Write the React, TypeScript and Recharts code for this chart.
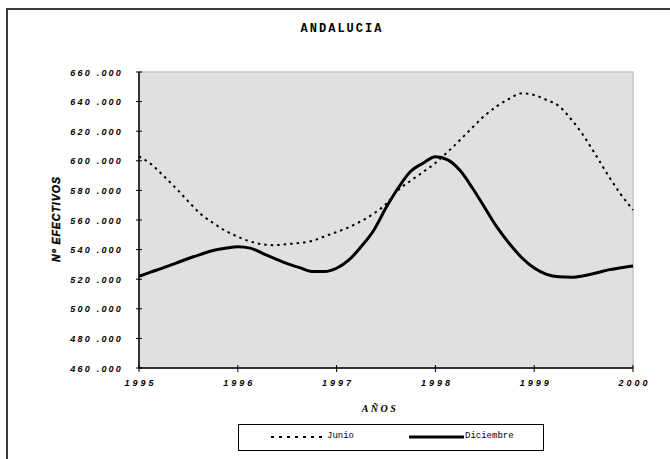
import React from "react"
import { LineChart, Line, XAxis, YAxis, ReferenceArea, Label } from "recharts"

// time axis, eighths of a year from 1995 to 2000
const years = [
  1995, 1995.125, 1995.25, 1995.375, 1995.5, 1995.625, 1995.75, 1995.875,
  1996, 1996.125, 1996.25, 1996.375, 1996.5, 1996.625, 1996.75, 1996.875,
  1997, 1997.125, 1997.25, 1997.375, 1997.5, 1997.625, 1997.75, 1997.875,
  1998, 1998.125, 1998.25, 1998.375, 1998.5, 1998.625, 1998.75, 1998.875,
  1999, 1999.125, 1999.25, 1999.375, 1999.5, 1999.625, 1999.75, 1999.875,
  2000,
]

// thousands of staff
const junio = [
  603, 597.6, 589.7, 581.4, 572.5, 564, 558, 552.7,
  548.7, 545.5, 543.6, 543, 543.7, 544.5, 545.8, 548.9,
  551.9, 555.1, 559.3, 564.3, 570.8, 580.3, 586.6, 592.4,
  598.5, 606, 614.1, 622.5, 630.5, 637, 642, 645.6,
  644.5, 641.1, 637, 628, 616.9, 603.7, 590, 577.5,
  566.8,
]

const diciembre = [
  522, 524.9, 527.8, 530.9, 534, 536.8, 539.4, 540.9,
  542, 541, 537.5, 533.9, 530.5, 527.8, 525.2, 525.2,
  527.4, 533, 542.1, 552.9, 568.2, 581.8, 592.9, 598.4,
  602.8, 600.6, 593.4, 581.6, 568.3, 555, 544, 534.5,
  527.5, 523.3, 521.6, 521.3, 522.3, 524.2, 526.3, 527.7,
  528.9,
]

const xTicks = [1995, 1996, 1997, 1998, 1999, 2000]
const yTicks = [460, 480, 500, 520, 540, 560, 580, 600, 620, 640, 660]

const data = years.map((year, i) => ({
  year,
  junio: junio[i] * 1000,
  diciembre: diciembre[i] * 1000,
}))

const TICK_FONT = "'Liberation Sans', Arial, sans-serif"
const MONO = "'Liberation Mono', 'Courier New', monospace"

function fmt(v: number) {
  const s = String(Math.round(v / 1000))
  return s + " .000"
}

function YTick({ x, y, payload }: any) {
  return (
    <g>
      <line x1={x - 3} x2={x + 3} y1={y} y2={y} stroke="#000" strokeWidth={1} />
      <text
        x={x - 16}
        y={y + 3.5}
        textAnchor="end"
        fontFamily={TICK_FONT}
        fontSize={9}
        fontStyle="italic"
        fontWeight={700}
        letterSpacing={2.2}
        fill="#000"
      >
        {fmt(payload.value)}
      </text>
    </g>
  )
}

function XTick({ x, y, payload }: any) {
  return (
    <g>
      <line x1={x} x2={x} y1={y - 3} y2={y + 4} stroke="#000" strokeWidth={1} />
      <text
        x={x + 1.5}
        y={y + 18}
        textAnchor="middle"
        fontFamily={TICK_FONT}
        fontSize={9}
        fontStyle="italic"
        fontWeight={700}
        letterSpacing={3}
        fill="#000"
      >
        {payload.value}
      </text>
    </g>
  )
}

export default function App() {
  return (
    <div style={{ position: "fixed", left: 0, top: 0, width: 670, height: 459, background: "#fff", overflow: "hidden" }}>
      <div
        style={{
          position: "absolute",
          left: 6,
          top: 8,
          width: 720,
          height: 520,
          border: "2px solid #3a3a3a",
        }}
      />
      <div
        style={{
          position: "absolute",
          left: 0,
          width: 684,
          top: 22,
          textAlign: "center",
          fontFamily: MONO,
          fontWeight: 700,
          fontSize: 12,
          letterSpacing: 2,
          color: "#000",
        }}
      >
        ANDALUCIA
      </div>
      <div style={{ position: "absolute", left: 0, top: 0 }}>
        <LineChart
          width={670}
          height={459}
          data={data}
          margin={{ top: 72, right: 37, bottom: 61, left: 79 }}
        >
          <ReferenceArea
            x1={1995}
            x2={2000}
            y1={460000}
            y2={660000}
            fill="#e0e0e0"
            fillOpacity={1}
            stroke="#c4c4c4"
            strokeWidth={1.5}
          />
          <XAxis
            dataKey="year"
            type="number"
            domain={[1995, 2000]}
            ticks={xTicks}
            height={30}
            tickSize={0}
            tickMargin={0}
            tickLine={false}
            axisLine={{ stroke: "#000", strokeWidth: 1.5 }}
            tick={<XTick />}
            interval={0}
          >
            <Label
              content={({ viewBox }: any) => (
                <text
                  x={viewBox.x + viewBox.width / 2 - 6}
                  y={viewBox.y + 44}
                  textAnchor="middle"
                  fontFamily="'Liberation Serif', 'Times New Roman', serif"
                  fontSize={10}
                  fontStyle="italic"
                  fontWeight={700}
                  letterSpacing={2.5}
                  fill="#000"
                >
                  AÑOS
                </text>
              )}
            />
          </XAxis>
          <YAxis
            type="number"
            domain={[460000, 660000]}
            ticks={yTicks.map((t) => t * 1000)}
            width={60}
            tickSize={0}
            tickMargin={0}
            tickLine={false}
            axisLine={{ stroke: "#000", strokeWidth: 1.5 }}
            tick={<YTick />}
            interval={0}
          >
            <Label
              content={({ viewBox }: any) => (
                <text
                  x={0}
                  y={0}
                  transform={`translate(${viewBox.x - 19}, ${viewBox.y + viewBox.height / 2 - 1}) rotate(-90)`}
                  textAnchor="middle"
                  fontFamily={TICK_FONT}
                  fontSize={10.5}
                  fontStyle="italic"
                  fontWeight={900}
                  letterSpacing={1}
                  fill="#000"
                  stroke="#000"
                  strokeWidth={0.4}
                >
                  Nº EFECTIVOS
                </text>
              )}
            />
          </YAxis>
          <Line
            type="monotone"
            dataKey="junio"
            name="Junio"
            stroke="#000"
            strokeWidth={2}
            strokeDasharray="2.5 4"
            dot={false}
            isAnimationActive={false}
          />
          <Line
            type="monotone"
            dataKey="diciembre"
            name="Diciembre"
            stroke="#000"
            strokeWidth={3}
            dot={false}
            isAnimationActive={false}
          />
        </LineChart>
      </div>
      <div
        style={{
          position: "absolute",
          left: 238,
          top: 424,
          width: 304,
          height: 25,
          border: "1px solid #000",
          background: "#fff",
          fontFamily: MONO,
          fontSize: 9,
          color: "#000",
        }}
      >
        <svg width={304} height={25} style={{ position: "absolute", left: 0, top: 0 }}>
          <line x1={32} x2={87} y1={12} y2={12} stroke="#000" strokeWidth={2} strokeDasharray="3 5" />
          <line x1={170} x2={225} y1={12} y2={12} stroke="#000" strokeWidth={3} />
        </svg>
        <span style={{ position: "absolute", left: 88, top: 6 }}>Junio</span>
        <span style={{ position: "absolute", left: 226, top: 6 }}>Diciembre</span>
      </div>
    </div>
  )
}
